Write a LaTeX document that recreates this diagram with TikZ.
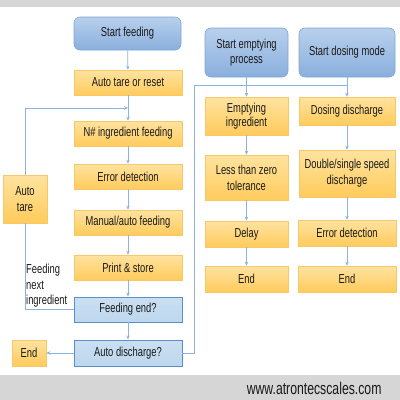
\documentclass[tikz,border=0pt]{standalone}
\usepackage{fontspec}
\setmainfont[FakeStretch=0.72]{Liberation Sans}
\usetikzlibrary{arrows.meta}
\definecolor{otop}{HTML}{FFE3A0}
\definecolor{obot}{HTML}{FFCB5C}
\definecolor{oline}{HTML}{F7C768}
\definecolor{btop}{HTML}{B8D0EC}
\definecolor{bbot}{HTML}{8AAFDD}
\definecolor{bline}{HTML}{7FA4D4}
\definecolor{dfill}{HTML}{BDD7EE}
\definecolor{dline}{HTML}{5B8FCB}
\definecolor{conn}{HTML}{8DB3E2}
\definecolor{band}{HTML}{D6D6D6}
\tikzset{
  txt/.style={font=\fontsize{13}{14.5}\selectfont, align=center, text=black!90},
  box/.style={draw=oline, line width=0.6pt, top color=otop, bottom color=obot, inner sep=1pt, txt},
  startbox/.style={draw=bline, line width=0.6pt, rounded corners=6pt, top color=btop, bottom color=bbot,
    inner sep=1pt, txt},
  decbox/.style={draw=dline, line width=0.9pt, top color=dfill!80!white, bottom color=dfill,
    inner sep=1pt, txt},
  conn/.style={draw=conn, line width=0.8pt},
  arr/.style={conn, -{Stealth[length=4pt,width=3.5pt]}},
}
\begin{document}
\begin{tikzpicture}[x=1pt,y=-1pt]
\useasboundingbox (0,0) rectangle (400,400);
\fill[band] (0,0) rectangle (400,7);
\fill[band] (0,375) rectangle (400,400);
\node[font=\fontsize{17}{19}\selectfont, text=black!90, anchor=east] (web) at (385,388) {www.atrontecscales.com};

% left column
\node[startbox, minimum width=107pt, minimum height=33pt] (sf) at (127.5,33.5) {Start feeding};
\node[box, minimum width=108pt, minimum height=25pt] (atr) at (128,82.5) {Auto tare or reset};
\node[box, minimum width=108pt, minimum height=25pt] (nif) at (128,133.5) {N\# ingredient feeding};
\node[box, minimum width=108pt, minimum height=25pt] (ed) at (128,176.5) {Error detection};
\node[box, minimum width=108pt, minimum height=25pt] (maf) at (128,222.5) {Manual/auto feeding};
\node[box, minimum width=108pt, minimum height=25pt] (ps) at (128,267.5) {Print \& store};
\node[decbox, minimum width=108pt, minimum height=25pt] (fe) at (128,309.5) {Feeding end?};
\node[decbox, minimum width=108pt, minimum height=26pt] (ad) at (128,353) {Auto discharge?};
\node[box, minimum width=34pt, minimum height=26pt] (endL) at (29,353) {End};
\node[box, minimum width=44pt, minimum height=48pt, font=\fontsize{13}{16}\selectfont] (at) at (25,199) {Auto\\tare};
\node[txt, font=\fontsize{13}{15.5}\selectfont, align=left, anchor=west, inner sep=0pt] (fni) at (26,286) {Feeding\\next\\ingredient};

% right columns
\node[startbox, minimum width=83pt, minimum height=49pt] (sep) at (246.5,52.5) {Start emptying\\process};
\node[startbox, minimum width=96pt, minimum height=49pt] (sdm) at (347,52.5) {Start dosing mode};
\node[box, minimum width=83pt, minimum height=38pt] (ei) at (246.5,116) {Emptying\\ingredient};
\node[box, minimum width=96pt, minimum height=28pt] (dd) at (347,111) {Dosing discharge};
\node[box, minimum width=83pt, minimum height=45pt, font=\fontsize{13}{16}\selectfont] (ltz) at (246.5,177.5) {Less than zero\\tolerance};
\node[box, minimum width=96pt, minimum height=47pt, font=\fontsize{13}{16}\selectfont] (dsd) at (347,173.5) {Double/single speed\\discharge};
\node[box, minimum width=83pt, minimum height=26pt] (dl) at (246.5,234) {Delay};
\node[box, minimum width=98pt, minimum height=26pt] (edr) at (347,233) {Error detection};
\node[box, minimum width=83pt, minimum height=26pt] (endE) at (246.5,279) {End};
\node[box, minimum width=98pt, minimum height=26pt] (endD) at (347,279) {End};

\coordinate (j1) at (128,108);
\coordinate (j2) at (194,85);
\coordinate (j3) at (347,85);

% left arrows
\draw[arr] (sf) -- (atr);
\draw[arr] (atr) -- (nif);
\draw[arr] (nif) -- (ed);
\draw[arr] (ed) -- (maf);
\draw[arr] (maf) -- (ps);
\draw[arr] (ps) -- (fe);
\draw[arr] (fe) -- (ad);
\draw[arr] (ad) -- (endL);
\draw[conn] (fe.west) -| (at.south);
\draw[arr] (at.north) |- (j1);
\draw[conn] (ad.east) -| (j2) -- (j3);

% right arrows
\draw[arr] (sep) -- (ei);
\draw[arr] (sdm) -- (dd);
\draw[arr] (ei) -- (ltz);
\draw[arr] (dd) -- (dsd);
\draw[arr] (ltz) -- (dl);
\draw[arr] (dsd) -- (edr);
\draw[arr] (dl) -- (endE);
\draw[arr] (edr) -- (endD);
\end{tikzpicture}
\end{document}
